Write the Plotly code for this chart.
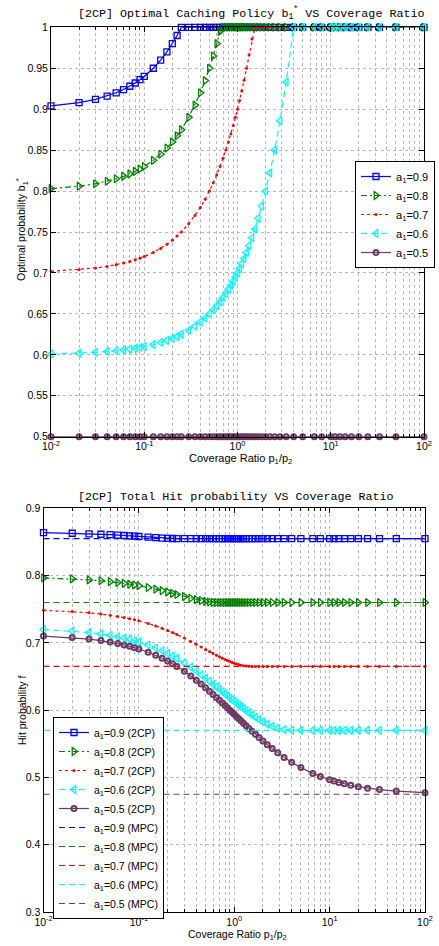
import plotly.graph_objects as go

# ---------------- data ----------------
coverage_ratio = [0.01, 0.02, 0.03, 0.04, 0.05, 0.06, 0.07, 0.08, 0.09, 0.1,
                  0.125, 0.15, 0.175, 0.2, 0.225, 0.25, 0.3, 0.35, 0.4, 0.45, 0.5,
                  0.55, 0.6, 0.65, 0.7, 0.75, 0.8, 0.85, 0.9, 0.95, 1.0,
                  1.053, 1.111, 1.176, 1.25, 1.333, 1.429, 1.538, 1.667, 1.818, 2.0,
                  2.222, 2.5, 2.857, 3.333, 4.0, 5.0, 6.667, 8.0, 10.0,
                  11.11, 12.5, 14.29, 16.67, 20.0, 25.0, 33.33, 50.0, 100.0]

a1_values = ["0.9", "0.8", "0.7", "0.6", "0.5"]

b1_a09 = [0.904, 0.908, 0.912, 0.916, 0.920, 0.924, 0.928, 0.932, 0.936, 0.940,
          0.950, 0.960, 0.970, 0.980, 0.990, 1, 1, 1, 1, 1, 1, 1, 1, 1, 1, 1, 1, 1, 1, 1, 1,
          1, 1, 1, 1, 1, 1, 1, 1, 1, 1, 1, 1, 1, 1, 1, 1, 1, 1, 1,
          1, 1, 1, 1, 1, 1, 1, 1, 1]
b1_a08 = [0.803, 0.806, 0.809, 0.812, 0.815, 0.818, 0.821, 0.824, 0.827, 0.830,
          0.8375, 0.845, 0.8525, 0.86, 0.8675, 0.875, 0.89, 0.905, 0.92, 0.935, 0.95,
          0.965, 0.98, 0.995, 1, 1, 1, 1, 1, 1, 1,
          1, 1, 1, 1, 1, 1, 1, 1, 1, 1, 1, 1, 1, 1, 1, 1, 1, 1, 1,
          1, 1, 1, 1, 1, 1, 1, 1, 1]
b1_a07 = [0.702, 0.704, 0.706, 0.708, 0.710, 0.712, 0.714, 0.716, 0.718, 0.720,
          0.725, 0.73, 0.735, 0.74, 0.745, 0.75, 0.76, 0.77, 0.78, 0.79, 0.80,
          0.81, 0.82, 0.83, 0.84, 0.85, 0.86, 0.87, 0.88, 0.89, 0.90,
          0.9106, 0.9222, 0.9352, 0.95, 0.9666, 0.9858, 1, 1, 1, 1,
          1, 1, 1, 1, 1, 1, 1, 1, 1,
          1, 1, 1, 1, 1, 1, 1, 1, 1]
b1_a06 = [0.601, 0.602, 0.603, 0.604, 0.605, 0.606, 0.607, 0.608, 0.609, 0.610,
          0.6125, 0.615, 0.6175, 0.62, 0.6225, 0.625, 0.63, 0.635, 0.64, 0.645, 0.65,
          0.655, 0.66, 0.665, 0.67, 0.675, 0.68, 0.685, 0.69, 0.695, 0.70,
          0.7053, 0.7111, 0.7176, 0.725, 0.7333, 0.7429, 0.7538, 0.7667, 0.7818, 0.80,
          0.8222, 0.85, 0.8857, 0.9333, 1, 1, 1, 1, 1,
          1, 1, 1, 1, 1, 1, 1, 1, 1]
b1_a05 = [0.5, 0.5, 0.5, 0.5, 0.5, 0.5, 0.5, 0.5, 0.5, 0.5,
          0.5, 0.5, 0.5, 0.5, 0.5, 0.5, 0.5, 0.5, 0.5, 0.5, 0.5,
          0.5, 0.5, 0.5, 0.5, 0.5, 0.5, 0.5, 0.5, 0.5, 0.5,
          0.5, 0.5, 0.5, 0.5, 0.5, 0.5, 0.5, 0.5, 0.5, 0.5,
          0.5, 0.5, 0.5, 0.5, 0.5, 0.5, 0.5, 0.5, 0.5,
          0.5, 0.5, 0.5, 0.5, 0.5, 0.5, 0.5, 0.5, 0.5]

hit_2cp_a09 = [0.8637, 0.8629, 0.8621, 0.8614, 0.8608, 0.8602, 0.8596, 0.8591, 0.8586, 0.8581,
               0.8571, 0.8563, 0.8557, 0.8553, 0.8551, 0.855, 0.855, 0.855, 0.855, 0.855, 0.855,
               0.855, 0.855, 0.855, 0.855, 0.855, 0.855, 0.855, 0.855, 0.855, 0.855,
               0.855, 0.855, 0.855, 0.855, 0.855, 0.855, 0.855, 0.855, 0.855, 0.855,
               0.855, 0.855, 0.855, 0.855, 0.855, 0.855, 0.855, 0.855, 0.855,
               0.855, 0.855, 0.855, 0.855, 0.855, 0.855, 0.855, 0.855, 0.855]
hit_2cp_a08 = [0.7965, 0.7951, 0.7936, 0.7923, 0.7910, 0.7897, 0.7885, 0.7872, 0.7861, 0.7850,
               0.7823, 0.7798, 0.7776, 0.7755, 0.7736, 0.7719, 0.7688, 0.7664, 0.7643, 0.7628, 0.7616,
               0.7608, 0.7602, 0.7600, 0.76, 0.76, 0.76, 0.76, 0.76, 0.76, 0.76,
               0.76, 0.76, 0.76, 0.76, 0.76, 0.76, 0.76, 0.76, 0.76, 0.76,
               0.76, 0.76, 0.76, 0.76, 0.76, 0.76, 0.76, 0.76, 0.76,
               0.76, 0.76, 0.76, 0.76, 0.76, 0.76, 0.76, 0.76, 0.76]
hit_2cp_a07 = [0.7485, 0.7466, 0.7447, 0.7429, 0.7411, 0.7393, 0.7376, 0.7359, 0.7343, 0.7327,
               0.7289, 0.7252, 0.7218, 0.7185, 0.7154, 0.7125, 0.7071, 0.7022, 0.6978, 0.6939, 0.6903,
               0.6871, 0.6842, 0.6816, 0.6793, 0.6772, 0.6753, 0.6737, 0.6722, 0.6709, 0.6698,
               0.6687, 0.6677, 0.6668, 0.6661, 0.6655, 0.6651, 0.665, 0.665, 0.665, 0.665,
               0.665, 0.665, 0.665, 0.665, 0.665, 0.665, 0.665, 0.665, 0.665,
               0.665, 0.665, 0.665, 0.665, 0.665, 0.665, 0.665, 0.665, 0.665]
hit_2cp_a06 = [0.7197, 0.7175, 0.7154, 0.7132, 0.7112, 0.7091, 0.7071, 0.7052, 0.7032, 0.7014,
               0.6968, 0.6924, 0.6883, 0.6843, 0.6805, 0.6769, 0.6700, 0.6638, 0.6579, 0.6526, 0.6476,
               0.6430, 0.6386, 0.6346, 0.6309, 0.6273, 0.6240, 0.6210, 0.6181, 0.6153, 0.6128,
               0.6102, 0.6076, 0.6048, 0.6019, 0.5990, 0.5959, 0.5927, 0.5894, 0.5861, 0.5827,
               0.5793, 0.5761, 0.5732, 0.5710, 0.57, 0.57, 0.57, 0.57, 0.57,
               0.57, 0.57, 0.57, 0.57, 0.57, 0.57, 0.57, 0.57, 0.57]
hit_2cp_a05 = [0.7101, 0.7078, 0.7056, 0.7034, 0.7012, 0.6991, 0.6970, 0.6949, 0.6929, 0.6909,
               0.6861, 0.6815, 0.6771, 0.6729, 0.6689, 0.6650, 0.6577, 0.6509, 0.6446, 0.6388, 0.6333,
               0.6282, 0.6234, 0.6189, 0.6147, 0.6107, 0.6069, 0.6034, 0.6000, 0.5968, 0.5938,
               0.5907, 0.5875, 0.5841, 0.5806, 0.5768, 0.5728, 0.5686, 0.5641, 0.5593, 0.5542,
               0.5487, 0.5429, 0.5366, 0.5298, 0.5225, 0.5146, 0.5060, 0.5014, 0.4966,
               0.4946, 0.4926, 0.4905, 0.4884, 0.4863, 0.4841, 0.4819, 0.4797, 0.4774]

hit_mpc = [0.855, 0.76, 0.665, 0.57, 0.475]

x_tick_vals = [0.01, 0.1, 1, 10, 100]
x_tick_text = ["10<sup>-2</sup>", "10<sup>-1</sup>", "10<sup>0</sup>", "10<sup>1</sup>", "10<sup>2</sup>"]

# ---------------- styles ----------------
PURPLE = "#6b3a63"
DASH = "6px,4px"
styles = [
    dict(color="#0000ff", dash="solid", symbol="square-open", size=6, mlw=1.3),
    dict(color="#008000", dash="6px,3px,2px,3px", symbol="triangle-right-open", size=7, mlw=1.3),
    dict(color="#ff0000", dash="dot", symbol="circle", size=3, mlw=0),
    dict(color="#00ffff", dash=DASH, symbol="triangle-left-open", size=7, mlw=1.3),
    dict(color=PURPLE, dash="solid", symbol="circle-open", size=5, mlw=2),
]

b1_series = [b1_a09, b1_a08, b1_a07, b1_a06, b1_a05]
hit_series = [hit_2cp_a09, hit_2cp_a08, hit_2cp_a07, hit_2cp_a06, hit_2cp_a05]

W, H = 439, 946
fig = go.Figure()

for a, ys, st in zip(a1_values, b1_series, styles):
    fig.add_trace(go.Scatter(
        x=coverage_ratio, y=ys, mode="lines+markers",
        name=f"a<sub>1</sub>={a}",
        line=dict(color=st["color"], dash=st["dash"], width=1.2),
        marker=dict(symbol=st["symbol"], size=st["size"], color=st["color"],
                    line=dict(color=st["color"], width=st["mlw"])),
        cliponaxis=False, xaxis="x", yaxis="y", legend="legend"))

for a, ys, st in zip(a1_values, hit_series, styles):
    fig.add_trace(go.Scatter(
        x=coverage_ratio, y=ys, mode="lines+markers",
        name=f"a<sub>1</sub>={a} (2CP)",
        line=dict(color=st["color"], dash=st["dash"], width=1.2),
        marker=dict(symbol=st["symbol"], size=st["size"], color=st["color"],
                    line=dict(color=st["color"], width=st["mlw"])),
        cliponaxis=False, xaxis="x2", yaxis="y2", legend="legend2"))

for a, v, st in zip(a1_values, hit_mpc, styles):
    fig.add_trace(go.Scatter(
        x=[coverage_ratio[0], coverage_ratio[-1]], y=[v, v], mode="lines",
        name=f"a<sub>1</sub>={a} (MPC)",
        line=dict(color=st["color"], dash=DASH, width=1.2),
        xaxis="x2", yaxis="y2", legend="legend2"))

minor_vals = [m * 10 ** e for e in range(-2, 2) for m in range(2, 10)]
GRID = "#b8b8b8"
TICKFONT = dict(family="Liberation Sans", size=10.5, color="black")


def xaxis_cfg(domain, anchor):
    return dict(type="log", range=[-2, 2], domain=domain, anchor=anchor,
                tickmode="array", tickvals=x_tick_vals, ticktext=x_tick_text,
                ticks="inside", ticklen=5, tickcolor="black",
                showline=True, linecolor="black", linewidth=1, mirror="ticks",
                showgrid=True, gridcolor=GRID, griddash="dot", gridwidth=1,
                minor=dict(tickmode="array", tickvals=minor_vals, ticks="inside",
                           ticklen=3, tickcolor="black", showgrid=True,
                           gridcolor=GRID, griddash="dot", gridwidth=1),
                zeroline=False, tickfont=TICKFONT, automargin=False)


def yaxis_cfg(domain, anchor, rng, dtick):
    return dict(range=rng, domain=domain, anchor=anchor, dtick=dtick, tick0=rng[0],
                ticks="inside", ticklen=5, tickcolor="black",
                showline=True, linecolor="black", linewidth=1, mirror="ticks",
                showgrid=True, gridcolor=GRID, griddash="dot", gridwidth=1,
                zeroline=False, tickfont=TICKFONT, automargin=False)


top_dom_y = [1 - 436.7 / H, 1 - 27.3 / H]
bot_dom_y = [1 - 912 / H, 1 - 508.3 / H]

ann = []
def add_text(text, x, y, size, family, angle=0):
    ann.append(dict(text=text, x=x / W, y=1 - y / H, xref="paper", yref="paper",
                    showarrow=False, xanchor="center", yanchor="middle",
                    textangle=angle, font=dict(family=family, size=size, color="black")))

add_text("[2CP] Optimal Caching Policy b<sub>1</sub><sup>*</sup> VS Coverage Ratio", 251, 13, 11.7, "Liberation Mono")
add_text("[2CP] Total Hit probability VS Coverage Ratio", 236, 497, 11.7, "Liberation Mono")
add_text("Coverage Ratio p<sub>1</sub>/p<sub>2</sub>", 240, 459, 11, "Liberation Sans")
add_text("Coverage Ratio p<sub>1</sub>/p<sub>2</sub>", 237, 935, 10.5, "Liberation Sans")
add_text("Optimal probability b<sub>1</sub><sup>*</sup>", 22, 230, 10.5, "Liberation Sans", -90)
add_text("Hit probability f", 22, 710, 10.5, "Liberation Sans", -90)

LEGFONT = dict(family="Liberation Sans", size=11, color="black")
LEGFONT2 = dict(family="Liberation Sans", size=10.5, color="black")

fig.update_layout(
    width=W, height=H, template="none",
    margin=dict(l=0, r=0, t=0, b=0),
    paper_bgcolor="white", plot_bgcolor="white",
    xaxis=xaxis_cfg([51 / W, 424 / W], "y"),
    yaxis=yaxis_cfg(top_dom_y, "x", [0.5, 1.0], 0.05),
    xaxis2=xaxis_cfg([43.5 / W, 425 / W], "y2"),
    yaxis2=yaxis_cfg(bot_dom_y, "x2", [0.3, 0.9], 0.1),
    legend=dict(x=355 / W, y=1 - 161 / H, xanchor="left", yanchor="top",
                bordercolor="black", borderwidth=1, bgcolor="white",
                font=LEGFONT, tracegroupgap=0, itemwidth=30),
    legend2=dict(x=53 / W, y=1 - 717 / H, xanchor="left", yanchor="top",
                 bordercolor="black", borderwidth=1, bgcolor="white",
                 font=LEGFONT2, tracegroupgap=0, itemwidth=30),
    annotations=ann,
    showlegend=True,
)

fig.write_html("out.html",
               config={"displayModeBar": False},
               post_script="document.body.style.margin='0px';"
                           "document.body.style.padding='0px';"
                           "document.documentElement.style.overflow='hidden';"
                           "document.body.style.overflow='hidden';")
